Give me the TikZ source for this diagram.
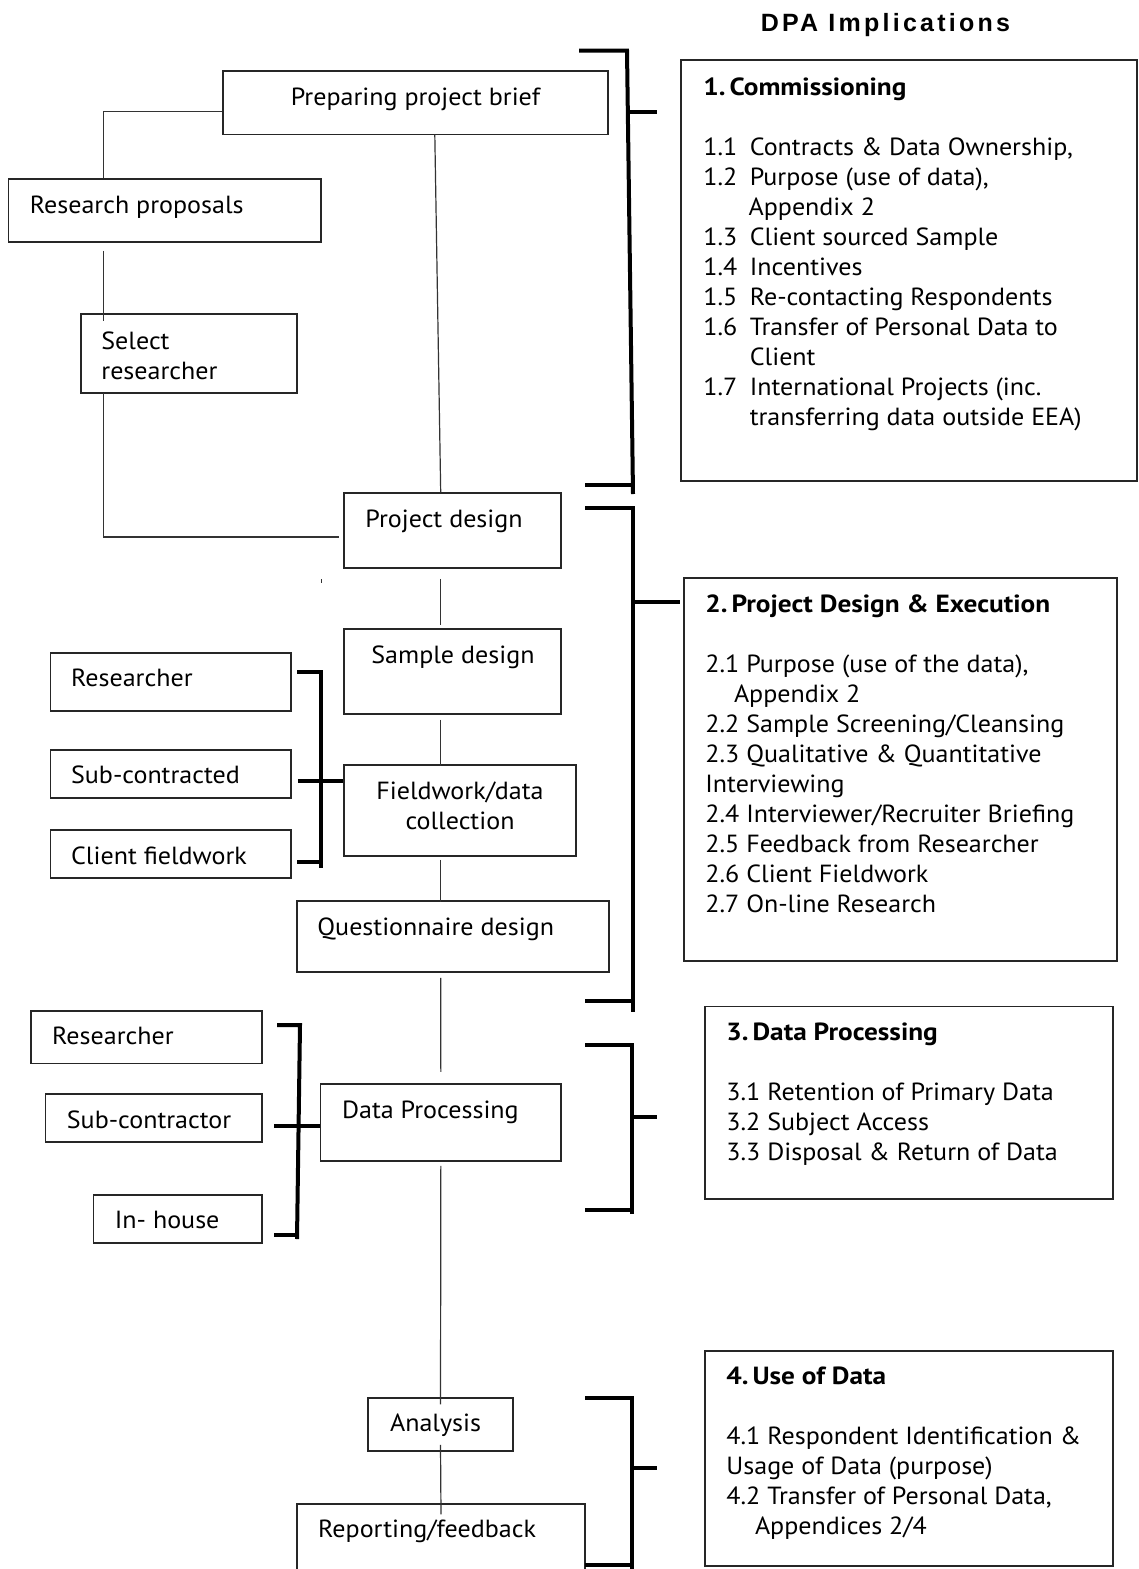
\documentclass[tikz,border=0pt]{standalone}
\usepackage{fontspec}
\setmainfont{PT Sans}[FakeStretch=1.05, BoldFeatures={FakeStretch=1.1}]
\newfontfamily\titlefont[LetterSpace=13]{Liberation Sans}
\usetikzlibrary{fit,calc}
\begin{document}
\begin{tikzpicture}[x=0.5pt,y=-0.5pt,
  box/.style={draw=black!85, line width=0.75pt, inner sep=0pt},
  lbl/.style={anchor=base west, inner sep=0pt, font=\fontsize{12.4}{15}\selectfont},
  lst/.style={anchor=base west, inner sep=0pt, font=\fontsize{12.4}{15}\selectfont},
  conn/.style={draw=black!80, line width=0.6pt},
  brk/.style={draw=black, line width=2pt, line join=miter}
]
\clip (0,0) rectangle (1139,1569);
\fill[white] (0,0) rectangle (1139,1569);

% title
\node[anchor=base, inner sep=0pt, font=\titlefont\bfseries\fontsize{12.5}{14}\selectfont] (title) at (885.5,31) {DPA Implications};

% flow boxes
\node[box, fit={(223,71) (608,134.6)}] (ppb) {};
\node[box, fit={(8.4,179) (321,242)}] (rp) {};
\node[box, fit={(80.8,314) (297,393)}] (sr) {};
\node[box, fit={(344,493) (561,568)}] (pd) {};
\node[box, fit={(344,629) (561,714)}] (sd) {};
\node[box, fit={(344,765) (576,856)}] (fw) {};
\node[box, fit={(297,901) (609,972)}] (qd) {};
\node[box, fit={(320.7,1084) (561,1161)}] (dp) {};
\node[box, fit={(368,1398) (513,1451)}] (an) {};
\node[box, fit={(297,1504) (585,1600)}] (rf) {};

% side boxes
\node[box, fit={(50.5,653) (291,711)}] (rea) {};
\node[box, fit={(50.5,750) (291,798)}] (sca) {};
\node[box, fit={(50.5,830) (291,878)}] (cfa) {};
\node[box, fit={(31,1011) (262,1063.5)}] (reb) {};
\node[box, fit={(45.5,1094) (262,1142)}] (scb) {};
\node[box, fit={(93.4,1195) (262,1243)}] (ihb) {};

% DPA boxes
\node[box, fit={(681,60) (1137,481)}] (c1) {};
\node[box, fit={(684,578) (1117,961)}] (c2) {};
\node[box, fit={(704.8,1006.5) (1113,1199)}] (c3) {};
\node[box, fit={(704.8,1351) (1113,1566)}] (c4) {};

% labels in flow boxes
\node[lbl] (tppb) at (290.4,105) {Preparing project brief};
\node[lbl] (trp) at (29.5,213) {Research proposals};
\node[lbl] (tsr) at (101,349) {\begin{tabular}[t]{@{}l@{}}Select\\researcher\end{tabular}};
\node[lbl] (tpd) at (365,527.5) {Project design};
\node[lbl] (tsd) at (371,663) {Sample design};
\node[lbl, anchor=base] (tfw) at (460,799) {\begin{tabular}[t]{@{}c@{}}Fieldwork/data\\collection\end{tabular}};
\node[lbl] (tqd) at (317,935) {Questionnaire design};
\node[lbl] (tdp) at (341.7,1118) {Data Processing};
\node[lbl] (tan) at (389.7,1431) {Analysis};
\node[lbl] (trf) at (317.8,1537.7) {Reporting/feedback};

\node[lbl] (trea) at (70.7,686.7) {Researcher};
\node[lbl] (tsca) at (70.7,783) {Sub-contracted};
\node[lbl] (tcfa) at (70.7,864) {Client fieldwork};
\node[lbl] (treb) at (51.8,1044) {Researcher};
\node[lbl] (tscb) at (66.5,1128) {Sub-contractor};
\node[lbl] (tihb) at (114.5,1228.6) {In- house};

% DPA texts
\node[lst] (tc1) at (703,95) {\begin{tabular}[t]{@{}l@{}}
\textbf{1.\kern2pt Commissioning}\\
\\
\makebox[23.2pt][l]{1.1}Contracts \& Data Ownership,\\
\makebox[23.2pt][l]{1.2}Purpose (use of data),\\
\hspace*{22.6pt}Appendix 2\\
\makebox[23.2pt][l]{1.3}Client sourced Sample\\
\makebox[23.2pt][l]{1.4}Incentives\\
\makebox[23.2pt][l]{1.5}Re-contacting Respondents\\
\makebox[23.2pt][l]{1.6}Transfer of Personal Data to\\
\hspace*{23.2pt}Client\\
\makebox[23.2pt][l]{1.7}International Projects (inc.\\
\hspace*{23.2pt}transferring data outside EEA)
\end{tabular}};

\node[lst] (tc2) at (705,612) {\begin{tabular}[t]{@{}l@{}}
\textbf{2.\kern2pt Project Design \& Execution}\\
\\
2.1 Purpose (use of the data),\\
\hspace*{14.3pt}Appendix 2\\
2.2 Sample Screening/Cleansing\\
2.3 Qualitative \& Quantitative\\
Interviewing\\
2.4 Interviewer/Recruiter Briefing\\
2.5 Feedback from Researcher\\
2.6 Client Fieldwork\\
2.7 On-line Research
\end{tabular}};

\node[lst] (tc3) at (726,1040.6) {\begin{tabular}[t]{@{}l@{}}
\textbf{3.\kern2pt Data Processing}\\
\\
3.1 Retention of Primary Data\\
3.2 Subject Access\\
3.3 Disposal \& Return of Data
\end{tabular}};

\node[lst] (tc4) at (726,1384) {\begin{tabular}[t]{@{}l@{}}
\textbf{4.\kern2pt Use of Data}\\
\\
4.1 Respondent Identification \&\\
Usage of Data (purpose)\\
4.2 Transfer of Personal Data,\\
\hspace*{14.3pt}Appendices 2/4
\end{tabular}};

% flow connectors
\draw[conn] ($(ppb.west)+(0,8.6)$) -| ($(rp.north west)+(96,0)$);
\draw[conn] ($(rp.south west)+(96,8)$) -- ($(sr.north west)+(23.6,8)$);
\draw[conn] ($(sr.south west)+(23.6,-1)$) |- ($(pd.west)+(-4,6.5)$);
\draw[conn] ($(ppb.south)+(19.3,-1)$) -- ($(pd.north)+(-11.8,0)$);
\draw[conn] ($(pd.south)+(-11.8,10)$) -- ($(sd.north)+(-11.8,-3)$);
\draw[conn] ($(sd.south)+(-11.8,5)$) -- ($(fw.north)+(-19.3,2)$);
\draw[conn] ($(fw.south)+(-19.3,3)$) -- ($(qd.north)+(-12.3,2)$);
\draw[conn] ($(qd.south)+(-12.3,5)$) -- ($(dp.north)+(0,-11.4)$);
\draw[conn] ($(dp.south)+(0,4)$) -- ($(an.north)+(0,7)$);
\draw[conn] ($(an.south)+(0,-7)$) -- ($(rf.north)+(0,11)$);
\coordinate (tick) at (321.5,579);
\draw[conn] (tick) -- ++(0,4);

% left bracket 1
\coordinate (l1a) at (297,672);
\coordinate (l1b) at (321,672);
\coordinate (l1c) at (321,868);
\coordinate (l1d) at (297,862);
\coordinate (l1e) at (321,862);
\draw[brk] (l1a) -- (l1b) -- (l1c);
\draw[brk] (l1d) -- (l1e);
\draw[brk] ($(sca.east)+(6,7)$) -- (fw.west |- 0,781);

% left bracket 2
\coordinate (l2a) at (277,1025);
\coordinate (l2b) at (300,1025);
\coordinate (l2c) at (297,1239);
\coordinate (l2d) at (274,1235);
\coordinate (l2e) at (297.5,1235);
\draw[brk] (l2a) -- (l2b) -- (l2c);
\draw[brk] (l2d) -- (l2e);
\draw[brk] ($(scb.east)+(11.6,8)$) -- (dp.west |- 0,1126);

% right bracket 1
\coordinate (r1a) at (579,50.7);
\coordinate (r1b) at (627,50.7);
\coordinate (r1c) at (633,494);
\coordinate (r1d) at (585,485);
\coordinate (r1e) at (632.5,485);
\coordinate (r1f) at (630,112);
\coordinate (r1g) at (657,112);
\draw[brk] (r1a) -- (r1b) -- (r1c);
\draw[brk] (r1d) -- (r1e);
\draw[brk] (r1f) -- (r1g);

% right bracket 2
\coordinate (r2a) at (585,508);
\coordinate (r2b) at (632.6,508);
\coordinate (r2c) at (632.6,1012);
\coordinate (r2d) at (585,1000.7);
\draw[brk] (r2a) -- (r2b) -- (r2c);
\draw[brk] (r2d) -- (r2d -| r2b);
\draw[brk] (r2b |- 0,602) -- ($(c2.west |- 0,602)+(-3,0)$);

% right bracket 3
\coordinate (r3a) at (585,1045);
\coordinate (r3b) at (632,1045);
\coordinate (r3c) at (632,1214);
\coordinate (r3d) at (585,1210);
\coordinate (r3g) at (657,1117);
\draw[brk] (r3a) -- (r3b) -- (r3c);
\draw[brk] (r3d) -- (r3d -| r3b);
\draw[brk] (r3b |- r3g) -- (r3g);

% right bracket 4
\coordinate (r4a) at (585,1398);
\coordinate (r4b) at (632,1398);
\coordinate (r4c) at (632,1570);
\coordinate (r4d) at (585,1565);
\coordinate (r4g) at (657,1468);
\draw[brk] (r4a) -- (r4b) -- (r4c);
\draw[brk] (r4d) -- (r4d -| r4b);
\draw[brk] (r4b |- r4g) -- (r4g);
\end{tikzpicture}
\end{document}
